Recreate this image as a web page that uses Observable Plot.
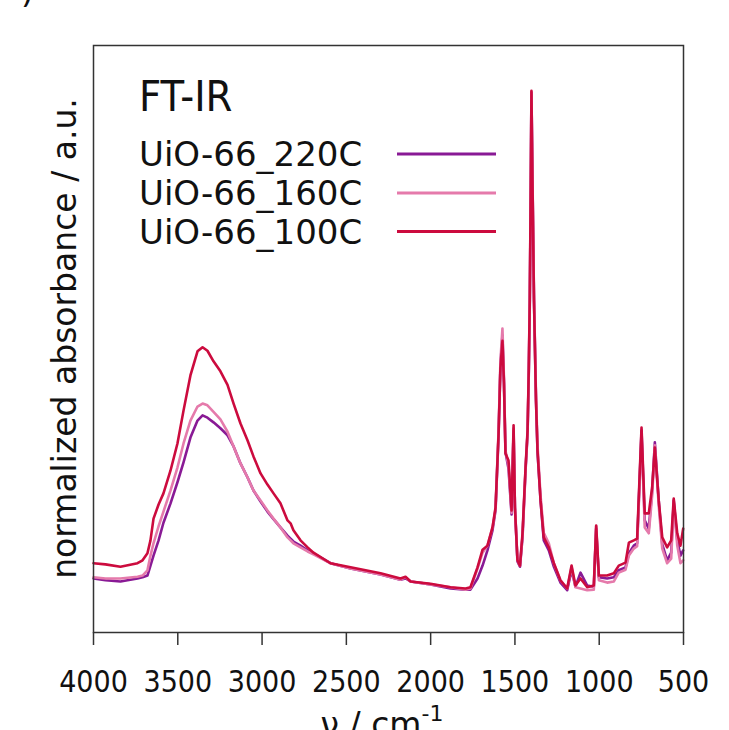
<!DOCTYPE html>
<html>
<head>
<meta charset="utf-8">
<script src="https://cdn.jsdelivr.net/npm/d3@7"></script>
<script src="https://cdn.jsdelivr.net/npm/@observablehq/plot@0.6"></script>
<style>
  html, body { margin: 0; padding: 0; background: #fff; overflow: hidden; }
</style>
</head>
<body>
<div id="chart"></div>
<script>
// wavenumber grid, cm^-1
const wavenumber = [4000,3929,3840,3739,3709,3680,3662,3644,3614,3585,3543,3502,3466,3425,3383,3353,3324,3288,3247,3205,3169,3128,3086,3051,3009,2968,2932,2891,2849,2831,2814,2772,2730,2695,2594,2475,2297,2179,2149,2119,2001,1882,1793,1764,1722,1692,1663,1633,1615,1597,1586,1574,1565,1556,1538,1520,1508,1500,1485,1470,1455,1437,1425,1418,1412,1406,1402,1396,1387,1375,1366,1348,1329,1299,1269,1230,1190,1164,1141,1111,1071,1032,1018,1002,953,913,884,844,824,795,775,749,730,706,686,670,647,626,597,573,558,537,518,502];

// normalized absorbance, a.u.
const abs220 = [0.092,0.089,0.087,0.092,0.094,0.097,0.114,0.131,0.157,0.187,0.220,0.256,0.290,0.332,0.361,0.370,0.366,0.358,0.348,0.336,0.317,0.288,0.264,0.242,0.223,0.206,0.193,0.179,0.165,0.160,0.155,0.148,0.140,0.135,0.118,0.109,0.099,0.090,0.092,0.087,0.082,0.075,0.073,0.073,0.092,0.114,0.140,0.174,0.208,0.336,0.455,0.506,0.426,0.307,0.279,0.201,0.344,0.213,0.121,0.112,0.162,0.276,0.339,0.438,0.557,0.753,0.920,0.773,0.569,0.395,0.307,0.225,0.157,0.140,0.112,0.085,0.072,0.106,0.078,0.102,0.080,0.078,0.177,0.094,0.092,0.094,0.106,0.111,0.135,0.148,0.152,0.344,0.191,0.177,0.242,0.324,0.225,0.150,0.123,0.136,0.225,0.157,0.131,0.140];

const abs160 = [0.094,0.092,0.092,0.095,0.097,0.106,0.131,0.152,0.181,0.206,0.242,0.281,0.322,0.361,0.385,0.390,0.387,0.376,0.363,0.342,0.317,0.288,0.264,0.242,0.225,0.208,0.194,0.179,0.162,0.157,0.152,0.145,0.138,0.133,0.118,0.109,0.099,0.090,0.094,0.087,0.082,0.077,0.073,0.075,0.109,0.136,0.148,0.179,0.211,0.344,0.463,0.518,0.433,0.310,0.284,0.204,0.348,0.216,0.123,0.114,0.165,0.279,0.341,0.443,0.566,0.761,0.920,0.779,0.574,0.404,0.319,0.233,0.170,0.152,0.118,0.089,0.075,0.111,0.077,0.075,0.072,0.073,0.181,0.089,0.085,0.087,0.102,0.107,0.131,0.143,0.147,0.336,0.179,0.169,0.233,0.319,0.216,0.143,0.118,0.126,0.221,0.148,0.118,0.123];

const abs100 = [0.118,0.116,0.112,0.118,0.123,0.135,0.157,0.194,0.218,0.237,0.276,0.322,0.378,0.438,0.479,0.486,0.480,0.462,0.445,0.422,0.390,0.356,0.327,0.300,0.271,0.252,0.237,0.220,0.191,0.186,0.174,0.157,0.145,0.136,0.118,0.111,0.101,0.092,0.095,0.087,0.083,0.077,0.075,0.077,0.111,0.141,0.148,0.179,0.213,0.339,0.451,0.497,0.424,0.305,0.293,0.208,0.353,0.213,0.123,0.114,0.169,0.281,0.344,0.446,0.566,0.770,0.923,0.770,0.566,0.395,0.310,0.225,0.162,0.145,0.118,0.089,0.075,0.114,0.080,0.092,0.077,0.080,0.182,0.097,0.097,0.101,0.114,0.119,0.153,0.157,0.160,0.349,0.203,0.203,0.247,0.315,0.225,0.162,0.145,0.157,0.228,0.169,0.148,0.177];

const seriesNames = ["UiO-66_220C", "UiO-66_160C", "UiO-66_100C"];
const seriesColors = ["#891a95", "#e57aab", "#cc0b3e"];
const xTicks = [4000, 3500, 3000, 2500, 2000, 1500, 1000, 500];
const titleText = "FT-IR";
const xLabel = "ν / cm";
const xLabelSup = "-1";
const yLabel = "normalized absorbance / a.u.";

const values = [abs220, abs160, abs100];
const data = seriesNames.flatMap((s, i) =>
  wavenumber.map((w, j) => ({ w, a: values[i][j], s }))
);

const condensed = "'DejaVu Sans Condensed', 'DejaVu Sans', sans-serif";
const regular = "'DejaVu Sans', sans-serif";

const chart = Plot.plot({
  width: 729,
  height: 730,
  marginTop: 45,
  marginBottom: 98,
  marginLeft: 93,
  marginRight: 46,
  style: { fontFamily: condensed, fontSize: "30px", background: "#fff", color: "#222", overflow: "visible" },
  x: { domain: [4000, 500] },
  y: { domain: [0, 1], axis: null },
  color: { domain: seriesNames, range: seriesColors },
  marks: [
    Plot.line(data, { x: "w", y: "a", z: "s", stroke: "s", strokeWidth: 2.6 }),
    Plot.frame({ stroke: "#333", strokeWidth: 1.5 }),
    Plot.axisX({
      ticks: xTicks,
      tickFormat: d => String(d),
      tickSize: 13,
      tickPadding: 25,
      stroke: "#333",
      strokeWidth: 1.5,
      label: null,
      fontSize: 30,
      fill: "#111"
    })
  ]
});

const svg = d3.select(chart);
svg.style("font-stretch", "condensed");

// title
svg.append("text")
  .attr("x", 139).attr("y", 111)
  .attr("text-anchor", "start")
  .attr("font-family", condensed).attr("font-size", 43)
  .attr("fill", "#111")
  .text(titleText);

// legend
const legendBase = [166, 205, 243.5];
const legendLineY = [154, 193, 231.5];
seriesNames.forEach((s, i) => {
  svg.append("text")
    .attr("x", 139).attr("y", legendBase[i])
    .attr("text-anchor", "start")
    .attr("font-family", regular).attr("font-size", 34)
    .style("font-stretch", "normal")
    .attr("fill", "#111")
    .text(s);
  svg.append("line")
    .attr("x1", 397).attr("x2", 496)
    .attr("y1", legendLineY[i]).attr("y2", legendLineY[i])
    .attr("stroke", seriesColors[i]).attr("stroke-width", 3);
});

// y label
svg.append("text")
  .attr("transform", "translate(76,338.5) rotate(-90)")
  .attr("text-anchor", "middle")
  .attr("font-family", regular).attr("font-size", 33)
  .style("font-stretch", "normal")
  .attr("fill", "#111")
  .text(yLabel);

// x label (partially cut at the bottom, as in the reference)
const xl = svg.append("text")
  .attr("x", 382).attr("y", 736)
  .attr("text-anchor", "middle")
  .attr("font-family", regular).attr("font-size", 33)
  .style("font-stretch", "normal")
  .attr("fill", "#111");
xl.append("tspan").text(xLabel);
xl.append("tspan").attr("dy", -15).attr("font-size", 22).text(xLabelSup);

// partial panel marker at top-left
svg.append("text")
  .attr("x", 21).attr("y", 3)
  .attr("text-anchor", "start")
  .attr("font-family", regular).attr("font-size", 33)
  .style("font-stretch", "normal")
  .attr("fill", "#111")
  .text(")");

document.getElementById("chart").appendChild(chart);
</script>
</body>
</html>
